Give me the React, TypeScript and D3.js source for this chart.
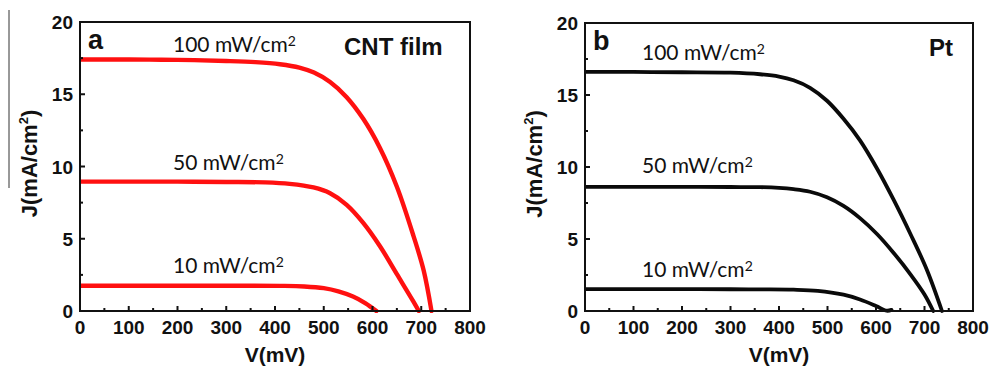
import React from "react";
import * as d3 from "d3";

// J-V curves: [V (mV), J (mA/cm2)]
const cnt100 = [[0, 17.4], [100, 17.4], [200, 17.38], [300, 17.3], [360, 17.22], [410, 17.08], [450, 16.85], [480, 16.5], [513, 15.85], [547, 14.8], [581, 13.3], [615, 11.3], [650, 8.6], [684, 5.2], [705, 2.8], [721, 0]];
const cnt50 = [[0, 8.95], [100, 8.95], [200, 8.95], [300, 8.93], [380, 8.9], [430, 8.8], [479, 8.55], [513, 8.15], [547, 7.35], [581, 6.1], [615, 4.5], [650, 2.55], [684, 0.65], [695, 0]];
const cnt10 = [[0, 1.75], [100, 1.75], [200, 1.75], [300, 1.75], [410, 1.74], [460, 1.7], [500, 1.58], [530, 1.36], [560, 1.0], [585, 0.55], [608, 0]];

const pt100 = [[0, 16.6], [100, 16.6], [200, 16.58], [300, 16.55], [361, 16.44], [400, 16.28], [430, 16.02], [464, 15.5], [499, 14.6], [533, 13.35], [567, 11.85], [602, 9.9], [636, 7.75], [671, 5.35], [705, 2.85], [736, 0]];
const pt50 = [[0, 8.62], [100, 8.62], [200, 8.62], [300, 8.61], [361, 8.6], [400, 8.55], [430, 8.46], [464, 8.28], [499, 7.9], [533, 7.3], [567, 6.45], [602, 5.35], [636, 4.05], [671, 2.55], [700, 1.15], [718, 0]];
const pt10 = [[0, 1.52], [100, 1.52], [200, 1.52], [300, 1.51], [361, 1.5], [430, 1.48], [480, 1.4], [533, 1.13], [567, 0.8], [600, 0.35], [622, 0.02], [632, 0.08]];

const intensityLabels = ["100 mW/cm", "50 mW/cm", "10 mW/cm"];
const xTicks = [0, 100, 200, 300, 400, 500, 600, 700, 800];
const yTicks = [0, 5, 10, 15, 20];

const tickFont = "'Liberation Sans', Arial, sans-serif";
const labelFont = "Lato, 'Open Sans', sans-serif";

function Panel({ left, right, top, bottom, curves, color, width, letter, title, titleX, labelX, labelYs, yLabelX }) {
  const x = d3.scaleLinear().domain([0, 800]).range([left, right]);
  const y = d3.scaleLinear().domain([0, 20]).range([bottom, top]);
  const line = d3.line().x((d) => x(d[0])).y((d) => y(d[1])).curve(d3.curveCatmullRom.alpha(0.5));
  const minorX = d3.range(50, 800, 100);
  const minorY = [2.5, 7.5, 12.5, 17.5];

  return (
    <g>
      <defs>
        <clipPath id={"clip" + letter}>
          <rect x={left} y={top} width={right - left} height={bottom - top + 2} />
        </clipPath>
      </defs>
      <g clipPath={`url(#clip${letter})`}>
        {curves.map((c, i) => (
          <path key={i} d={line(c)} fill="none" stroke={color} strokeWidth={width} strokeLinecap="round" strokeLinejoin="round" />
        ))}
      </g>
      <rect x={left} y={top} width={right - left} height={bottom - top} fill="none" stroke="#111" strokeWidth={2} />
      {xTicks.map((t) => (
        <g key={"x" + t}>
          <line x1={x(t)} x2={x(t)} y1={bottom} y2={bottom - 5} stroke="#111" strokeWidth={2} />
          <text x={x(t)} y={bottom + 23} textAnchor="middle" fontFamily={tickFont} fontWeight="bold" fontSize={19} fill="#111">{t}</text>
        </g>
      ))}
      {minorX.map((t) => (
        <line key={"mx" + t} x1={x(t)} x2={x(t)} y1={bottom} y2={bottom - 3} stroke="#111" strokeWidth={2} />
      ))}
      {yTicks.map((t) => (
        <g key={"y" + t}>
          <line x1={left} x2={left + 5} y1={y(t)} y2={y(t)} stroke="#111" strokeWidth={2} />
          <text x={left - 7} y={y(t) + 7} textAnchor="end" fontFamily={tickFont} fontWeight="bold" fontSize={19} fill="#111">{t}</text>
        </g>
      ))}
      {minorY.map((t) => (
        <line key={"my" + t} x1={left} x2={left + 3} y1={y(t)} y2={y(t)} stroke="#111" strokeWidth={2} />
      ))}
      <text x={(left + right) / 2} y={bottom + 51} textAnchor="middle" fontFamily={tickFont} fontWeight="bold" fontSize={21} fill="#111">V(mV)</text>
      <text transform={`translate(${yLabelX},${(top + bottom) / 2 - 3}) rotate(-90)`} textAnchor="middle" fontFamily={tickFont} fontWeight="bold" fontSize={22} fill="#111">
        J(mA/cm<tspan dy={-9} fontSize={13}>2</tspan><tspan dy={9}>)</tspan>
      </text>
      <text x={left + 8} y={top + 27} fontFamily={tickFont} fontWeight="bold" fontSize={27} fill="#111">{letter}</text>
      <text x={titleX} y={top + 33} fontFamily={tickFont} fontWeight="bold" fontSize={24} fill="#111">{title}</text>
      {intensityLabels.map((s, i) => (
        <text key={s} x={labelX} y={labelYs[i]} fontFamily={labelFont} fontSize={21} fill="#111">
          {s}<tspan dy={-6} fontSize={14}>2</tspan>
        </text>
      ))}
    </g>
  );
}

export default function App() {
  return (
    <svg width={990} height={367} style={{ position: "absolute", left: 0, top: 0, background: "#fff" }}>
      <rect width={990} height={367} fill="#fff" />
      <line x1={9} x2={9} y1={10} y2={188} stroke="#333" strokeWidth={1} />
      <Panel left={80} right={470} top={22} bottom={311} curves={[cnt100, cnt50, cnt10]} color="#ff1010" width={4.4}
        letter="a" title="CNT film" titleX={344} labelX={173} labelYs={[52, 170, 273]} yLabelX={37} />
      <Panel left={585} right={973} top={23} bottom={311} curves={[pt100, pt50, pt10]} color="#0a0a0a" width={3.8}
        letter="b" title="Pt" titleX={929} labelX={642} labelYs={[60, 173, 277]} yLabelX={542} />
    </svg>
  );
}
